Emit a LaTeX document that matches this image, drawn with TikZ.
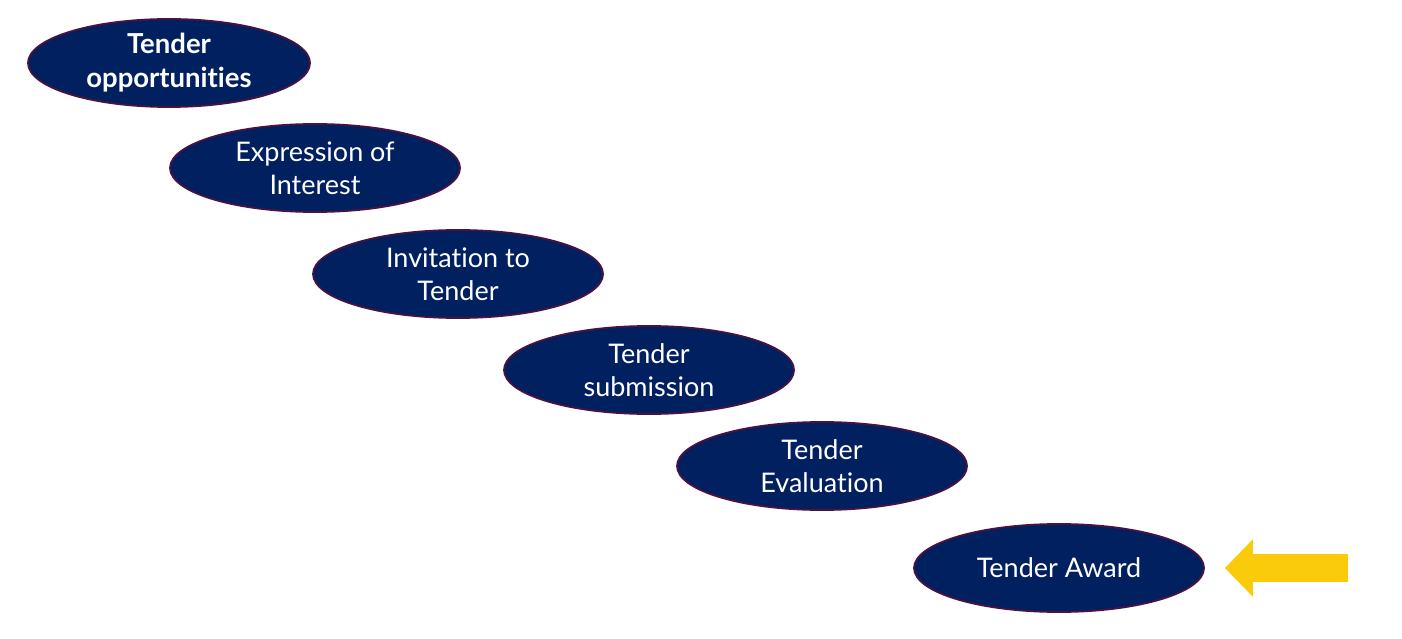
\documentclass[tikz,border=0pt]{standalone}
\usepackage{fontspec}
\setmainfont{Lato}[RawFeature=-liga]
\usepackage{tikz}
\usetikzlibrary{arrows.meta, shapes.geometric, positioning}
\definecolor{tdNavy}{HTML}{002060}
\definecolor{tdRim}{HTML}{4A1240}
\definecolor{tdGold}{HTML}{FACB0A}
\tikzset{
  stage/.style={
    draw=tdRim, fill=tdNavy, ellipse, line width=1.8pt,
    minimum width=290pt, minimum height=88pt, inner sep=0pt,
    text=white, align=center, font=\fontsize{27}{33}\selectfont
  },
  firststage/.style={stage, minimum width=282pt, font=\fontsize{27.5}{34}\selectfont\bfseries},
  pointer/.style={-{Triangle[length=28pt, width=56pt]}, line width=28pt, tdGold}
}
\begin{document}
\begin{tikzpicture}[x=1pt, y=1pt]
  \useasboundingbox (0,0) rectangle (1402,638);
  \node[firststage] (opps) at (169,575) {Tender\\opportunities};
  \node[stage] (eoi) at (315,470) {Expression of\\Interest};
  \node[stage] (itt) at (458,364) {Invitation to\\Tender};
  \node[stage] (subm) at (649,268) {Tender\\submission};
  \node[stage] (eval) at (822,172) {Tender\\Evaluation};
  \node[stage] (award) at (1059,70) {Tender Award};
  % arrow pointing at the award
  \coordinate (tail) at (1348,70);
  \draw[pointer] (tail) -- ([xshift=20pt]award.east);
\end{tikzpicture}
\end{document}
